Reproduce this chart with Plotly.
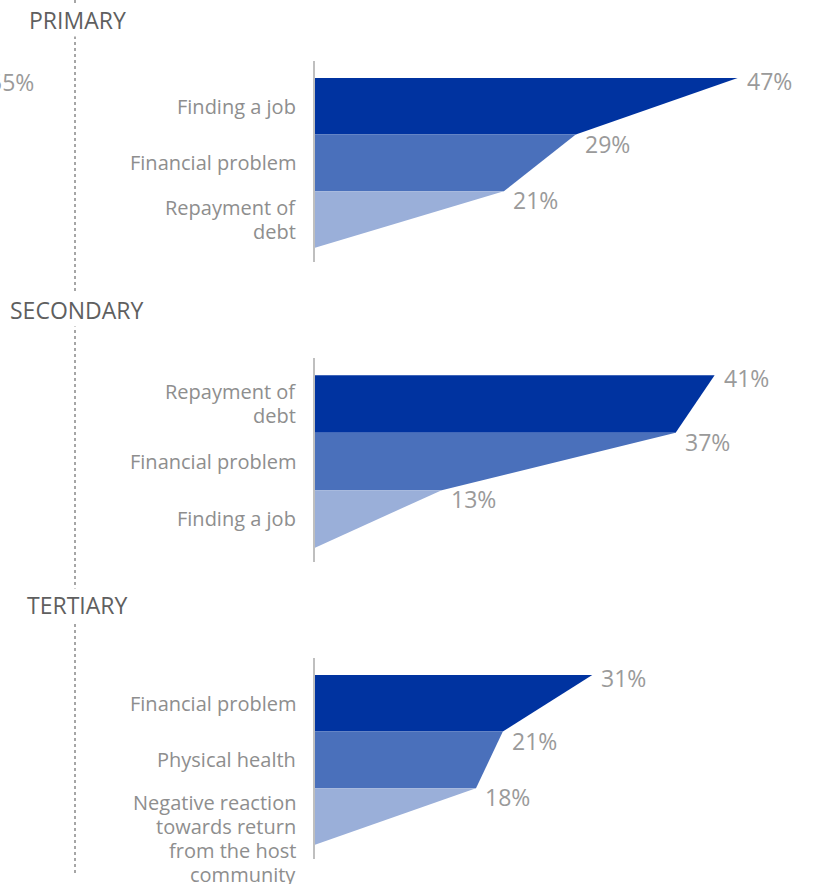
import plotly.graph_objects as go

# ---------------- data ----------------
panel_titles = ["PRIMARY", "SECONDARY", "TERTIARY"]

primary_labels = ["Finding a job", "Financial problem", "Repayment of<br>debt"]
primary_values = [47, 29, 21]

secondary_labels = ["Repayment of<br>debt", "Financial problem", "Finding a job"]
secondary_values = [41, 37, 13]

tertiary_labels = ["Financial problem", "Physical health",
                   "Negative reaction<br>towards return<br>from the host<br>community"]
tertiary_values = [31, 21, 18]

stray_label = "55%"

# ---------------- style ----------------
W, H = 815, 884
band_colors = ["#0033A0", "#4A70BB", "#9AAFD9"]
label_color = "#8E8E8E"
pct_color = "#9A9A9A"
title_color = "#5F5F5F"
FONT = "Open Sans"

panel_px = [(61, 262), (358, 562), (658, 859)]
x_max = [55.6, 51.3, 55.9]
x_left_px = 315
label_right_px = 298
line_pitch = 24          # px between lines of a wrapped category label

panels = [
    (primary_labels, primary_values),
    (secondary_labels, secondary_values),
    (tertiary_labels, tertiary_values),
]

fig = go.Figure()
annotations = []
layout_axes = {}

for k, (labels, values) in enumerate(panels):
    sfx = "" if k == 0 else str(k + 1)
    xa, ya = "x" + sfx, "y" + sfx
    n = len(values)
    top, bot = panel_px[k]
    band_px = (bot - top) / 3.55
    for i in range(n):
        v_next = values[i + 1] if i + 1 < n else 0
        fig.add_trace(go.Scatter(
            x=[0, values[i], v_next, 0, 0],
            y=[i, i, i + 1, i + 1, i],
            fill="toself", fillcolor=band_colors[i],
            mode="lines", line=dict(width=0, color=band_colors[i]),
            hoverinfo="skip", showlegend=False,
            xaxis=xa, yaxis=ya,
        ))
        annotations.append(dict(
            x=values[i], y=i, xref=xa, yref=ya,
            text=f"{values[i]}%", showarrow=False,
            xanchor="left", yanchor="middle", xshift=7,
            yshift=-3 if i == 0 else -9,
            font=dict(family=FONT, size=23, color=pct_color),
        ))
        # category label, right-aligned left of the axis line, one line each
        parts = labels[i].split("<br>")
        m = len(parts)
        for j, part in enumerate(parts):
            if m > 2:
                # long label hangs from the top of its band
                off = -band_px / 2 + 14 + j * line_pitch
            else:
                off = (j - (m - 1) / 2) * line_pitch
            annotations.append(dict(
                x=label_right_px / W, xref="paper", y=i + 0.5, yref=ya,
                text=part, showarrow=False,
                xanchor="right", yanchor="middle", yshift=-off,
                font=dict(family=FONT, size=20, color=label_color),
            ))
    layout_axes["xaxis" + sfx] = dict(
        domain=[x_left_px / W, 1], range=[0, x_max[k]],
        visible=False, anchor=ya, fixedrange=True,
    )
    layout_axes["yaxis" + sfx] = dict(
        domain=[1 - bot / H, 1 - top / H], range=[3.25, -0.3],
        anchor=xa, showgrid=False, zeroline=False,
        showline=True, linecolor="#BFBFBF", linewidth=2,
        showticklabels=False, ticks="", fixedrange=True,
    )

# panel titles
title_px = [20, 310, 605]
for t, ypx in zip(panel_titles, title_px):
    annotations.append(dict(
        x=77 / W, y=1 - ypx / H, xref="paper", yref="paper",
        text=t, showarrow=False, xanchor="center", yanchor="middle",
        bgcolor="white", borderpad=0,
        font=dict(family=FONT, size=23, color=title_color),
    ))

# stray, partly-cut value at the left edge
annotations.append(dict(
    x=36 / W, y=1 - 82 / H, xref="paper", yref="paper",
    text=stray_label, showarrow=False, xanchor="right", yanchor="middle",
    font=dict(family=FONT, size=23, color=pct_color),
))

fig.update_layout(
    width=W, height=H, autosize=False,
    margin=dict(l=0, r=0, t=0, b=0),
    paper_bgcolor="white", plot_bgcolor="white",
    annotations=annotations,
    shapes=[dict(
        type="line", xref="paper", yref="paper",
        x0=75 / W, x1=75 / W, y0=1, y1=1 - 873 / H,
        line=dict(color="#A6A6A6", width=2, dash="dot"),
    )],
    **layout_axes,
)

fig.write_html("out.html", config={"displayModeBar": False},
               post_script="document.body.style.margin='0';")
